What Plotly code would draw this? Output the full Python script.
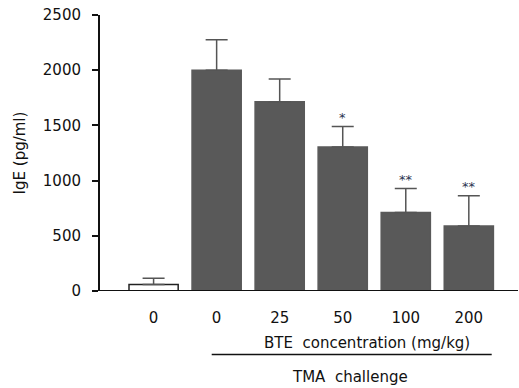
import plotly.graph_objects as go

categories = ["0", "0", "25", "50", "100", "200"]
ige_values = [60, 2000, 1715, 1305, 710, 589]
ige_errors = [55, 275, 205, 185, 218, 273]
significance = ["", "", "", "*", "**", "**"]
bar_colors = ["white", "#595959", "#595959", "#595959", "#595959", "#595959"]
line_colors = ["#222222", "#595959", "#595959", "#595959", "#595959", "#595959"]

xpos = list(range(len(categories)))
font = "DejaVu Sans"

fig = go.Figure()
fig.add_trace(go.Bar(
    x=xpos, y=ige_values, width=0.78,
    marker=dict(color=bar_colors, line=dict(color=line_colors, width=1.5)),
    error_y=dict(type="data", array=ige_errors, arrayminus=[0]*6, symmetric=False,
                 color="#555555", thickness=1.5, width=11),
    showlegend=False,
))

annotations = []
for x, v, e, s in zip(xpos, ige_values, ige_errors, significance):
    if s:
        annotations.append(dict(x=x, y=v + e, text=s, showarrow=False, xref="x", yref="y",
                                yanchor="bottom", yshift=0,
                                font=dict(family=font, size=13, color="#2a3350")))

L, R, T, B = 100, 518, 15, 291
def px(x):
    return (x - L) / (R - L)
def py(y):
    return (B - y) / (B - T)

annotations.append(dict(x=px(367), y=py(343), xref="paper", yref="paper",
                        xanchor="center", yanchor="middle", text="BTE  concentration (mg/kg)",
                        showarrow=False, font=dict(family=font, size=15, color="#111")))
annotations.append(dict(x=px(350), y=py(377), xref="paper", yref="paper",
                        xanchor="center", yanchor="middle", text="TMA  challenge",
                        showarrow=False, font=dict(family=font, size=15, color="#111")))

fig.update_layout(
    width=519, height=388,
    margin=dict(l=L, r=519 - R, t=T, b=388 - B),
    plot_bgcolor="white", paper_bgcolor="white",
    annotations=annotations,
    shapes=[dict(type="line", xref="paper", yref="paper", x0=px(211.7), x1=px(491.7),
                 y0=py(354.5), y1=py(354.5), line=dict(color="#111", width=1.5))],
    xaxis=dict(range=[-0.85, 5.78], tickvals=xpos, ticktext=categories, ticks="",
               showgrid=False, zeroline=False, showline=False,
               ticklabelstandoff=16, tickfont=dict(family=font, size=15, color="#111")),
    yaxis=dict(range=[0, 2500], tickvals=[0, 500, 1000, 1500, 2000, 2500], ticks="outside",
               ticklen=6, tickwidth=2, tickcolor="#111", showline=True, linecolor="#111",
               linewidth=2, showgrid=False, zeroline=False, ticklabelstandoff=8,
               tickfont=dict(family=font, size=15, color="#111"),
               title=dict(text="IgE (pg/ml)", font=dict(family=font, size=15, color="#111"), standoff=14)),
)
fig.add_shape(type="line", xref="paper", yref="y", x0=-6/(R-L), x1=1, y0=0, y1=0,
              line=dict(color="#111", width=2))

fig.write_html("out.html")
